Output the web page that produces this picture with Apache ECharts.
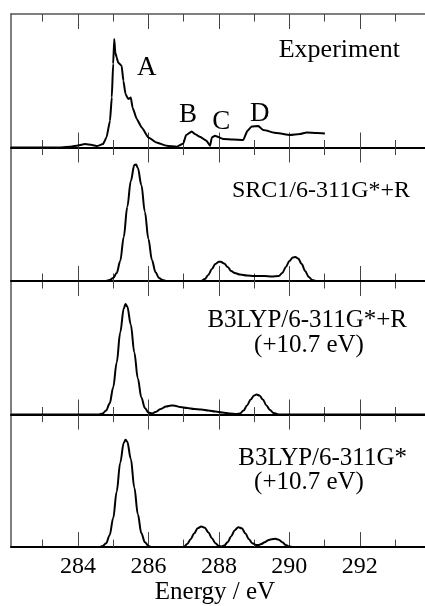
<!DOCTYPE html>
<html>
<head>
<meta charset="utf-8">
<script src="https://cdn.jsdelivr.net/npm/echarts@6/dist/echarts.min.js"></script>
<style>
  html, body { margin: 0; padding: 0; background: #fff; }
  #chart { width: 425px; height: 606px; }
</style>
</head>
<body>
<div id="chart"></div>
<script>
// Energy axis (eV)
const energyMin = 282.1;
const energyMax = 293.85;
const majorTicks = [284, 286, 288, 290, 292];
const minorTicks = [283, 285, 287, 289, 291, 293];
const axisTitle = 'Energy / eV';

// Intensity scale shared by all four panels (arbitrary units)
const intensityMax = 1.335;

// Measured C 1s spectrum: [energy, intensity]
const experiment = [
  [282.10, 0], [283.49, 0], [283.83, 0.01], [284.00, 0.02], [284.20, 0.034],
  [284.40, 0.025], [284.54, 0.014], [284.71, 0.034], [284.81, 0.10], [284.91, 0.267],
  [284.96, 0.50], [285.00, 0.837], [285.03, 1.084], [285.06, 0.95], [285.10, 0.90],
  [285.14, 0.85], [285.24, 0.817], [285.29, 0.667], [285.35, 0.534], [285.43, 0.484],
  [285.50, 0.50], [285.55, 0.40], [285.67, 0.284], [285.81, 0.20], [286.00, 0.10],
  [286.23, 0.05], [286.52, 0.017], [286.80, 0.007], [286.99, 0.04], [287.07, 0.124],
  [287.23, 0.16], [287.32, 0.134], [287.46, 0.107], [287.65, 0.067], [287.75, 0.017],
  [287.80, 0.10], [287.89, 0.117], [288.13, 0.084], [288.40, 0.08], [288.69, 0.074],
  [288.81, 0.167], [288.93, 0.21], [289.12, 0.214], [289.26, 0.174], [289.64, 0.144],
  [290.02, 0.124], [290.30, 0.134], [290.49, 0.15], [290.78, 0.144], [291.01, 0.14]
];

// SRC1/6-311G*+R
const src1Rydberg = [
  [282.10, 0], [284.80, 0], [284.90, 0.01], [285.00, 0.03], [285.10, 0.08],
  [285.20, 0.20], [285.30, 0.44], [285.40, 0.74], [285.50, 1.00], [285.60, 1.16],
  [285.65, 1.165], [285.70, 1.13], [285.80, 0.96], [285.90, 0.69], [286.00, 0.42],
  [286.10, 0.21], [286.20, 0.09], [286.30, 0.03], [286.40, 0.01], [286.50, 0],
  [287.50, 0], [287.60, 0.02], [287.70, 0.06], [287.80, 0.12], [287.90, 0.17],
  [288.00, 0.193], [288.05, 0.193], [288.15, 0.175], [288.25, 0.14], [288.35, 0.10],
  [288.45, 0.08], [288.60, 0.065], [288.80, 0.055], [289.00, 0.05], [289.30, 0.05],
  [289.50, 0.045], [289.70, 0.05], [289.80, 0.08], [289.90, 0.14], [290.00, 0.20],
  [290.10, 0.235], [290.17, 0.24], [290.25, 0.225], [290.35, 0.17], [290.45, 0.10],
  [290.55, 0.04], [290.65, 0.01], [290.75, 0], [293.85, 0]
];

// B3LYP/6-311G*+R, shifted by +10.7 eV
const b3lypRydberg = [
  [282.10, 0], [284.60, 0], [284.70, 0.01], [284.80, 0.04], [284.90, 0.11],
  [285.00, 0.27], [285.10, 0.52], [285.20, 0.82], [285.30, 1.06], [285.35, 1.105],
  [285.40, 1.08], [285.50, 0.90], [285.60, 0.62], [285.70, 0.36], [285.80, 0.17],
  [285.90, 0.065], [286.00, 0.02], [286.10, 0.01], [286.20, 0.025], [286.35, 0.055],
  [286.50, 0.08], [286.65, 0.09], [286.75, 0.088], [286.90, 0.075], [287.10, 0.065],
  [287.30, 0.055], [287.50, 0.05], [287.70, 0.04], [287.90, 0.03], [288.10, 0.02],
  [288.30, 0.01], [288.50, 0.005], [288.60, 0.01], [288.70, 0.04], [288.80, 0.09],
  [288.90, 0.15], [289.00, 0.19], [289.07, 0.20], [289.15, 0.19], [289.25, 0.15],
  [289.35, 0.09], [289.45, 0.045], [289.55, 0.015], [289.70, 0], [293.85, 0]
];

// B3LYP/6-311G*, shifted by +10.7 eV
const b3lyp = [
  [282.10, 0], [284.60, 0], [284.70, 0.01], [284.80, 0.04], [284.90, 0.12],
  [285.00, 0.29], [285.10, 0.56], [285.20, 0.85], [285.30, 1.05], [285.35, 1.08],
  [285.40, 1.06], [285.50, 0.89], [285.60, 0.60], [285.70, 0.33], [285.80, 0.14],
  [285.90, 0.05], [286.00, 0.01], [286.10, 0], [287.00, 0], [287.10, 0.03],
  [287.20, 0.08], [287.30, 0.14], [287.40, 0.19], [287.50, 0.207], [287.60, 0.195],
  [287.70, 0.15], [287.80, 0.09], [287.90, 0.04], [288.00, 0.012], [288.08, 0.007],
  [288.15, 0.015], [288.25, 0.05], [288.35, 0.11], [288.45, 0.17], [288.55, 0.20],
  [288.65, 0.19], [288.75, 0.14], [288.85, 0.08], [288.95, 0.04], [289.05, 0.022],
  [289.12, 0.02], [289.20, 0.03], [289.30, 0.05], [289.40, 0.07], [289.50, 0.08],
  [289.60, 0.083], [289.70, 0.075], [289.80, 0.05], [289.90, 0.02], [290.00, 0.005],
  [290.10, 0], [293.85, 0]
];

const spectra = [experiment, src1Rydberg, b3lypRydberg, b3lyp];
const featureLabels = ['A', 'B', 'C', 'D'];

const SERIF = '"Liberation Serif", "Times New Roman", serif';
const panelTop = 14;
const panelHeight = 133.5;
const tickColor = '#444';
const frameColor = '#555';

// One x axis that only draws a set of tick marks (optionally with its line/labels)
function tickAxis(gridIndex, position, values, inside, length, extra) {
  return Object.assign({
    type: 'value',
    gridIndex: gridIndex,
    position: position,
    min: energyMin,
    max: energyMax,
    axisLine: { show: false, onZero: false },
    axisTick: {
      show: true, inside: inside, length: length, customValues: values,
      lineStyle: { color: tickColor, width: 1 }
    },
    axisLabel: { show: false },
    splitLine: { show: false },
    minorTick: { show: false },
    minorSplitLine: { show: false }
  }, extra || {});
}

const grids = [], xAxes = [], yAxes = [], series = [];

spectra.forEach(function (data, i) {
  const last = i === spectra.length - 1;
  grids.push({
    left: 11, right: 0,
    top: panelTop + i * panelHeight,
    height: panelHeight
  });
  yAxes.push({
    type: 'value', gridIndex: i, min: 0, max: intensityMax,
    axisLine: { show: true, onZero: false, lineStyle: { color: frameColor, width: 1.5 } },
    axisTick: { show: false }, axisLabel: { show: false }, splitLine: { show: false }
  });

  const baseIndex = xAxes.length;
  // Baseline with upward major ticks (energy labels on the lowest panel)
  xAxes.push(tickAxis(i, 'bottom', majorTicks, true, 15, {
    axisLine: { show: true, onZero: false, lineStyle: { color: '#000', width: 2 } },
    axisLabel: last ? {
      show: true, customValues: majorTicks, margin: 8,
      color: '#000', fontFamily: SERIF, fontSize: 24
    } : { show: false },
    name: last ? axisTitle : '',
    nameLocation: 'middle',
    nameGap: 30,
    nameTextStyle: { color: '#000', fontFamily: SERIF, fontSize: 25, padding: [0, 6, 0, 0] }
  }));
  xAxes.push(tickAxis(i, 'bottom', minorTicks, true, 7.5));
  if (!last) {
    // Downward ticks into the panel below
    xAxes.push(tickAxis(i, 'bottom', majorTicks, false, 15));
    xAxes.push(tickAxis(i, 'bottom', minorTicks, false, 7.5));
  }
  if (i === 0) {
    // Top frame line with ticks pointing down
    xAxes.push(tickAxis(i, 'top', majorTicks, true, 15, {
      axisLine: { show: true, onZero: false, lineStyle: { color: frameColor, width: 1.5 } }
    }));
    xAxes.push(tickAxis(i, 'top', minorTicks, true, 7.5));
  }

  series.push({
    type: 'line',
    xAxisIndex: baseIndex,
    yAxisIndex: i,
    data: data,
    showSymbol: false,
    smooth: i === 0 ? 0.15 : 0.35,
    smoothMonotone: 'x',
    lineStyle: { color: '#000', width: 2 },
    silent: true,
    z: 5
  });
});

function label(text, x, y, size, align) {
  return {
    type: 'text', x: x, y: y, z: 10, silent: true,
    style: {
      text: text, fill: '#000',
      font: size + 'px ' + SERIF,
      textAlign: align || 'center',
      textVerticalAlign: 'middle'
    }
  };
}

const graphics = [
  label('Experiment', 400, 50, 26, 'right'),
  label(featureLabels[0], 146.7, 68, 27),
  label(featureLabels[1], 188, 115, 27),
  label(featureLabels[2], 221.3, 122.3, 27),
  label(featureLabels[3], 259.7, 113.5, 27),
  label('SRC1/6-311G*+R', 410, 191, 24, 'right'),
  label('B3LYP/6-311G*+R', 407, 320, 25, 'right'),
  label('(+10.7 eV)', 309, 345, 25),
  label('B3LYP/6-311G*', 407, 458, 25, 'right'),
  label('(+10.7 eV)', 309, 482, 25)
];

const chart = echarts.init(document.getElementById('chart'), null, { renderer: 'canvas' });
chart.setOption({
  animation: false,
  backgroundColor: '#fff',
  grid: grids,
  xAxis: xAxes,
  yAxis: yAxes,
  series: series,
  graphic: graphics
});
</script>
</body>
</html>
